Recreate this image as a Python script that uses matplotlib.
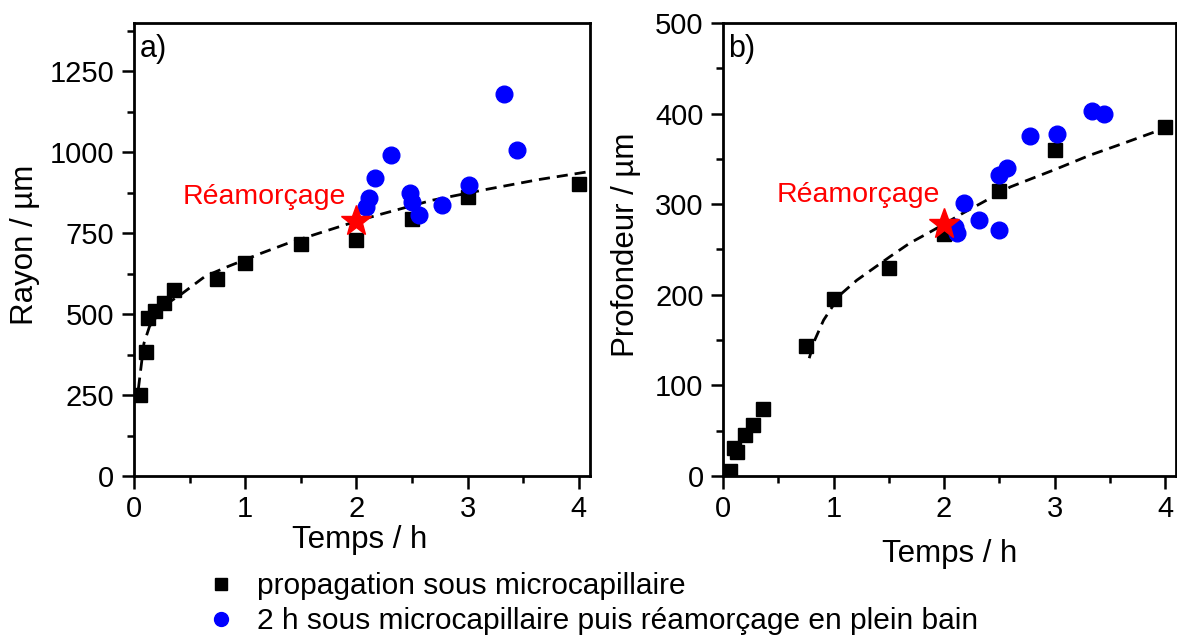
import matplotlib

matplotlib.use("Agg")
import matplotlib.pyplot as plt
from matplotlib.lines import Line2D
from matplotlib.ticker import MultipleLocator

plt.rcParams["font.family"] = ["Liberation Sans", "DejaVu Sans"]

# a) rayon - propagation sous microcapillaire
t_rayon = [0.05, 0.11, 0.13, 0.19, 0.27, 0.36, 0.75, 1.0, 1.5, 2.0, 2.5, 3.0, 4.0]
rayon = [250, 384, 488, 511, 536, 575, 608, 658, 717, 728, 793, 862, 903]

# a) rayon - réamorçage en plein bain
t_rayon_bain = [2.09, 2.11, 2.17, 2.31, 2.48, 2.50, 2.56, 2.77, 3.01, 3.33, 3.44]
rayon_bain = [830, 858, 922, 993, 875, 848, 808, 837, 899, 1179, 1008]

# a) courbe d'ajustement (lue sur la figure)
t_fit_rayon = [0.04, 0.09, 0.14, 0.25, 0.33, 0.43, 0.64, 0.85, 1.15, 1.39,
               1.67, 2.0, 2.2, 2.68, 3.16, 3.64, 4.1]
fit_rayon = [270, 410, 462, 515, 540, 563, 617, 648, 689, 720,
             751, 787, 807, 852, 885, 916, 941]

# b) profondeur - propagation sous microcapillaire
t_prof = [0.06, 0.10, 0.13, 0.20, 0.27, 0.36, 0.75, 1.0, 1.5, 2.0, 2.5, 3.0, 4.0]
prof = [6, 31, 27, 45, 56, 74, 143, 195, 230, 267, 315, 360, 385]

# b) profondeur - réamorçage en plein bain
t_prof_bain = [2.10, 2.12, 2.18, 2.32, 2.50, 2.50, 2.57, 2.78, 3.02, 3.34, 3.45]
prof_bain = [275, 268, 301, 283, 272, 332, 340, 375, 377, 403, 400]

# b) courbe d'ajustement
t_fit_prof = [0.78, 0.83, 0.91, 1.06, 1.21, 1.36, 1.51, 1.69, 1.87, 2.0,
              2.17, 2.35, 2.60, 3.02, 3.32, 3.62, 3.98, 4.1]
fit_prof = [130, 150, 172, 200, 216, 229, 242, 257, 269, 278,
            290, 302, 319, 339, 354, 367, 383, 388]

# point de réamorçage
t_star = 2.0
rayon_star = 787
prof_star = 278

labels_legende = [
    "propagation sous microcapillaire",
    "2 h sous microcapillaire puis réamorçage en plein bain",
]


def tracer_panneau(ax, t, y, t_b, y_b, t_fit, y_fit, y_star, lettre,
                   ylabel, ymax, major, minor, pos_texte):
    ax.plot(t_fit, y_fit, color="black", lw=2.0, ls=(0, (4.0, 2.5)), zorder=1)
    ax.plot(t, y, "s", color="black", ms=10.5, zorder=2)
    ax.plot(t_b, y_b, "o", color="blue", mec="blue", ms=12, zorder=3)
    ax.plot(t_star, y_star, "*", color="red", mec="red", ms=23, zorder=4)
    ax.text(pos_texte[0], pos_texte[1], "Réamorçage", color="red",
            fontsize=20.5, ha="center", va="center")

    ax.set_xlim(0, 4.1)
    ax.set_ylim(0, ymax)
    ax.xaxis.set_major_locator(MultipleLocator(1))
    ax.xaxis.set_minor_locator(MultipleLocator(0.5))
    ax.yaxis.set_major_locator(MultipleLocator(major))
    ax.yaxis.set_minor_locator(MultipleLocator(minor))
    ax.tick_params(which="both", direction="out", top=False, right=False,
                   width=1.8, labelsize=21, pad=5)
    ax.tick_params(which="major", length=9)
    ax.tick_params(which="minor", length=5)
    for s in ax.spines.values():
        s.set_linewidth(2.0)

    ax.set_ylabel(ylabel, fontsize=22.5)
    ax.set_xlabel("Temps / h", fontsize=22.5)
    ax.text(0.012, 0.975, lettre, transform=ax.transAxes, fontsize=22,
            ha="left", va="top")


fig = plt.figure(figsize=(11.77, 6.39), dpi=100)
ax1 = fig.add_axes([0.1138, 0.2551, 0.3874, 0.709])
ax2 = fig.add_axes([0.6143, 0.2551, 0.3849, 0.709])

tracer_panneau(ax1, t_rayon, rayon, t_rayon_bain, rayon_bain, t_fit_rayon,
               fit_rayon, rayon_star, "a)", "Rayon / µm", 1400, 250, 125,
               (1.17, 863))
tracer_panneau(ax2, t_prof, prof, t_prof_bain, prof_bain, t_fit_prof,
               fit_prof, prof_star, "b)", "Profondeur / µm", 500, 100, 50,
               (1.22, 310))

ax1.yaxis.set_label_coords(-0.205, 0.51)
ax1.xaxis.set_label_coords(0.496, -0.108)
ax2.yaxis.set_label_coords(-0.18, 0.51)
ax2.xaxis.set_label_coords(0.501, -0.138)

poignees = [
    Line2D([], [], ls="none", marker="s", color="black", ms=9),
    Line2D([], [], ls="none", marker="o", color="blue", ms=10),
]
fig.legend(poignees, labels_legende, loc="upper left",
           bbox_to_anchor=(206 / 1177, 1 - 572 / 639), frameon=False,
           fontsize=21.5, handlelength=1.0, handletextpad=0.7,
           labelspacing=0.25, borderpad=0, borderaxespad=0)

fig.savefig("out.png", dpi=100)
